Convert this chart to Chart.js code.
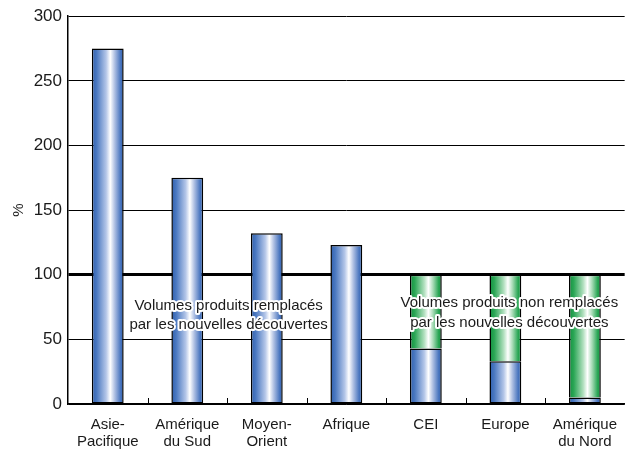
<!DOCTYPE html>
<html>
<head>
<meta charset="utf-8">
<script src="https://cdn.jsdelivr.net/npm/chart.js@4/dist/chart.umd.min.js"></script>
<style>
  html, body { margin: 0; padding: 0; background: #fff; }
  #wrap { width: 629px; height: 451px; }
</style>
</head>
<body>
<div id="wrap"><canvas id="c" width="629" height="451"></canvas></div>
<script>
// Ratio of new discoveries to produced volumes, by region (%)
const categories = [['Asie-', 'Pacifique'], ['Amérique', 'du Sud'], ['Moyen-', 'Orient'], 'Afrique', 'CEI', 'Europe', ['Amérique', 'du Nord']];
const replacedShare = [275, 175, 132, 123, 43, 33, 5];
// Share of produced volumes not replaced (up to the 100 % line)
const notReplacedShare = [0, 0, 0, 0, 57, 67, 95];
const yTicks = [0, 50, 100, 150, 200, 250, 300];
const noteReplaced = ['Volumes produits remplacés', 'par les nouvelles découvertes'];
const noteNotReplaced = ['Volumes produits non remplacés', 'par les nouvelles découvertes'];

const BAR_FRACTION = 0.4;
const FONT = '"Liberation Sans", Arial, sans-serif';

function barGradient(ctx, stops) {
  const chart = ctx.chart;
  const xs = chart.scales.x;
  if (!chart.chartArea || !xs) return stops[0][1];
  const cx = xs.getPixelForValue(ctx.dataIndex);
  const w = (chart.chartArea.right - chart.chartArea.left) / categories.length * BAR_FRACTION;
  const g = chart.ctx.createLinearGradient(cx - w / 2, 0, cx + w / 2, 0);
  stops.forEach(s => g.addColorStop(s[0], s[1]));
  return g;
}
const blueStops = [[0, '#2f5fae'], [0.15, '#4a78c0'], [0.45, '#b4c6e8'], [0.58, '#ffffff'], [0.72, '#aebfe2'], [0.9, '#4a76bf'], [1, '#2f5eac']];
const greenStops = [[0, '#13913f'], [0.15, '#2aa655'], [0.45, '#b2e0bf'], [0.58, '#ffffff'], [0.72, '#aadcb8'], [0.9, '#2aa655'], [1, '#14933f']];

// Small inward ticks between the categories on the horizontal axis
const categoryTicks = {
  id: 'categoryTicks',
  afterDraw(chart) {
    const { ctx, chartArea } = chart;
    const xs = chart.scales.x;
    ctx.save();
    ctx.strokeStyle = '#000';
    ctx.lineWidth = 1;
    for (let i = 1; i < categories.length; i++) {
      const x = Math.round((xs.getPixelForValue(i - 1) + xs.getPixelForValue(i)) / 2) + 0.5;
      ctx.beginPath();
      ctx.moveTo(x, chartArea.bottom);
      ctx.lineTo(x, chartArea.bottom - 6);
      ctx.stroke();
    }
    ctx.restore();
  }
};

// Haloed notes placed in data coordinates
const notes = {
  id: 'notes',
  afterDatasetsDraw(chart) {
    const { ctx } = chart;
    const xs = chart.scales.x, ys = chart.scales.y;
    const draw = (lines, xv, yv) => {
      ctx.save();
      ctx.font = '15px ' + FONT;
      ctx.textAlign = 'center';
      ctx.textBaseline = 'middle';
      ctx.lineJoin = 'round';
      lines.forEach((t, i) => {
        const x = xs.getPixelForValue(xv);
        const y = ys.getPixelForValue(yv[i]);
        ctx.strokeStyle = '#fff';
        ctx.lineWidth = 4;
        ctx.strokeText(t, x, y);
        ctx.fillStyle = '#1a1a1a';
        ctx.fillText(t, x, y);
      });
      ctx.restore();
    };
    draw(noteReplaced, 1.52, [76, 61]);
    draw(noteNotReplaced, 5.05, [78, 63]);
  }
};

new Chart(document.getElementById('c'), {
  type: 'bar',
  data: {
    labels: categories,
    datasets: [
      {
        label: 'remplacés',
        data: replacedShare,
        backgroundColor: ctx => barGradient(ctx, blueStops),
        borderColor: '#000',
        borderWidth: 1.5,
        borderSkipped: false,
        categoryPercentage: 1,
        barPercentage: BAR_FRACTION,
        stack: 's'
      },
      {
        label: 'non remplacés',
        data: notReplacedShare,
        backgroundColor: ctx => barGradient(ctx, greenStops),
        borderColor: '#000',
        borderWidth: 1.5,
        borderSkipped: 'bottom',
        categoryPercentage: 1,
        barPercentage: BAR_FRACTION,
        stack: 's'
      }
    ]
  },
  options: {
    responsive: false,
    animation: false,
    layout: { padding: { top: 13, right: 0, left: 0, bottom: 0 } },
    plugins: { legend: { display: false }, tooltip: { enabled: false } },
    scales: {
      x: {
        stacked: true,
        grid: { display: false, drawTicks: false },
        border: { display: true, color: '#000', width: 1.5 },
        ticks: { color: '#1a1a1a', font: { size: 15, family: FONT, lineHeight: 1.15 }, padding: 12, maxRotation: 0, autoSkip: false },
        afterFit(s) { s.height = 47; }
      },
      y: {
        stacked: true,
        min: 0,
        max: 300,
        afterBuildTicks(s) { s.ticks = yTicks.map(v => ({ value: v })); },
        grid: {
          color: '#000',
          lineWidth: c => (c.tick && c.tick.value === 100 ? 3 : 1),
          drawTicks: false
        },
        border: { display: true, color: '#000', width: 1.5 },
        ticks: { color: '#1a1a1a', font: { size: 17, family: FONT }, padding: 6 },
        title: { display: true, text: '%', color: '#1a1a1a', font: { size: 15, family: FONT }, padding: { top: 10, bottom: 0 } },
        afterFit(s) { s.width = 68; }
      }
    }
  },
  plugins: [categoryTicks, notes]
});
</script>
</body>
</html>
